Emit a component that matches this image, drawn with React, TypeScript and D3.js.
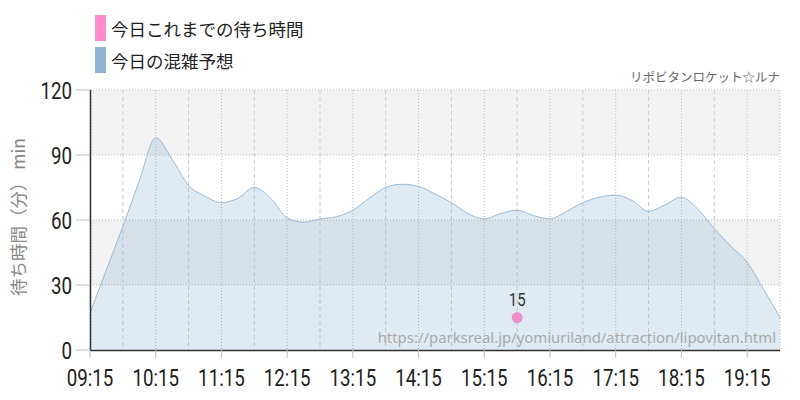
import React from "react";
import * as d3 from "d3";

const startTime = "09:15";
const endTime = "19:45";
const forecast = [17, 37, 57, 78, 98, 88, 76, 71, 68, 70, 75, 70, 61, 59, 60.5, 61.5, 64.5, 70, 75, 76.5, 75.5, 72, 68, 63, 60.5, 63, 64.5, 62, 60.5, 64, 68, 70.5, 71.5, 69, 64, 67, 70.5, 65, 56, 48, 40.5, 28, 15];
const actualTimes = ["15:45"];
const actualValues = [15];
const yTicks = [0, 30, 60, 90, 120];
const xTickLabels = ["09:15", "10:15", "11:15", "12:15", "13:15", "14:15", "15:15", "16:15", "17:15", "18:15", "19:15"];
const legendLabels = ["今日これまでの待ち時間", "今日の混雑予想"];
const legendColors = ["#ff8ccc", "#91b4d2"];
const credit = "リポビタンロケット☆ルナ";
const urlText = "https://parksreal.jp/yomiuriland/attraction/lipovitan.html";
const yTitle = "待ち時間（分） min";

const toMin = (s: string) => {
  const [h, m] = s.split(":").map(Number);
  return h * 60 + m;
};
const fmt = (m: number) => {
  const h = Math.floor(m / 60);
  const mm = m % 60;
  return `${String(h).padStart(2, "0")}:${String(mm).padStart(2, "0")}`;
};

const numFont = "Roboto, sans-serif";
const jpFont = "'Noto Sans CJK JP', sans-serif";

function Cond({ x, y, anchor, size, children, fill = "#222" }: any) {
  return (
    <text transform={`translate(${x},${y}) scale(0.78,1)`} textAnchor={anchor} fontFamily={numFont} fontSize={size} fill={fill}>
      {children}
    </text>
  );
}

export default function App() {
  const W = 800, H = 400;
  const L = 90, R = 780, T = 90, B = 350;
  const x = d3.scaleLinear().domain([toMin(startTime), toMin(endTime)]).range([L, R]);
  const y = d3.scaleLinear().domain([0, 120]).range([B, T]);
  const t0 = toMin(startTime);
  const pts = forecast.map((v, i) => [t0 + 15 * i, v] as [number, number]);
  const area = d3.area<[number, number]>().x(d => x(d[0])).y0(y(0)).y1(d => y(d[1])).curve(d3.curveMonotoneX);
  const line = d3.line<[number, number]>().x(d => x(d[0])).y(d => y(d[1])).curve(d3.curveMonotoneX);
  const major = xTickLabels.map(toMin);
  const minor = major.map(m => m + 30).filter(m => m < toMin(endTime));
  return (
    <svg width={W} height={H} style={{ position: "absolute", left: 0, top: 0 }}>
      <rect x={0} y={0} width={W} height={H} fill="#fff" />
      {[[90, 120], [30, 60]].map(([a, b], i) => (
        <rect key={i} x={L} y={y(b)} width={R - L} height={y(a) - y(b)} fill="#f2f2f2" />
      ))}
      {minor.map(m => (
        <line key={"mi" + m} x1={x(m)} x2={x(m)} y1={T} y2={B} stroke="#cccccc" strokeDasharray="4,3" />
      ))}
      {major.map(m => (
        <line key={"ma" + m} x1={x(m)} x2={x(m)} y1={T} y2={B} stroke="#bbbbbb" strokeDasharray="1,2" />
      ))}
      <line x1={R} x2={R} y1={T} y2={B} stroke="#bbbbbb" strokeDasharray="1,2" />
      {yTicks.filter(v => v > 0).map(v => (
        <line key={"h" + v} x1={L} x2={R} y1={y(v)} y2={y(v)} stroke="#bbbbbb" strokeDasharray="1,2" />
      ))}
      <path d={area(pts) || ""} fill="#7aa3c9" fillOpacity={0.23} />
      <path d={line(pts) || ""} fill="none" stroke="#9dbbd6" strokeWidth={1} />
      <text x={776} y={343} textAnchor="end" fontFamily="'Noto Sans', sans-serif" fontSize={14.9} fill="#aaaaaa">{urlText}</text>
      <line x1={L + 0.5} x2={L + 0.5} y1={T} y2={B} stroke="#333" strokeWidth={1.5} />
      <line x1={L} x2={R} y1={B + 0.5} y2={B + 0.5} stroke="#333" strokeWidth={1.5} />
      {yTicks.map(v => (
        <g key={"yt" + v}>
          <line x1={76} x2={L} y1={y(v)} y2={y(v)} stroke="#bbb" />
          <Cond x={72} y={y(v) + 8.5} anchor="end" size={24}>{v}</Cond>
        </g>
      ))}
      {major.map(m => (
        <g key={"xt" + m}>
          <line x1={x(m)} x2={x(m)} y1={B} y2={B + 8} stroke="#bbb" />
          <Cond x={x(m)} y={386} anchor="middle" size={24}>{fmt(m)}</Cond>
        </g>
      ))}
      {actualTimes.map((t, i) => (
        <g key={"p" + t}>
          <circle cx={x(toMin(t))} cy={y(actualValues[i])} r={5.5} fill="#ee8fcb" />
          <Cond x={x(toMin(t))} y={y(actualValues[i]) - 12} anchor="middle" size={19} fill="#333">{actualValues[i]}</Cond>
        </g>
      ))}
      <text transform={`translate(25,217) rotate(-90)`} textAnchor="middle" fontFamily={jpFont} fontSize={17.5} fill="#888">{yTitle}</text>
      {legendLabels.map((lab, i) => (
        <g key={lab}>
          <rect x={95} y={15 + i * 32} width={11} height={26} fill={legendColors[i]} />
          <text x={111} y={36 + i * 32} fontFamily={jpFont} fontSize={17.5} fill="#222">{lab}</text>
        </g>
      ))}
      <text x={780} y={82} textAnchor="end" fontFamily={jpFont} fontSize={12.5} fill="#666">{credit}</text>
    </svg>
  );
}
